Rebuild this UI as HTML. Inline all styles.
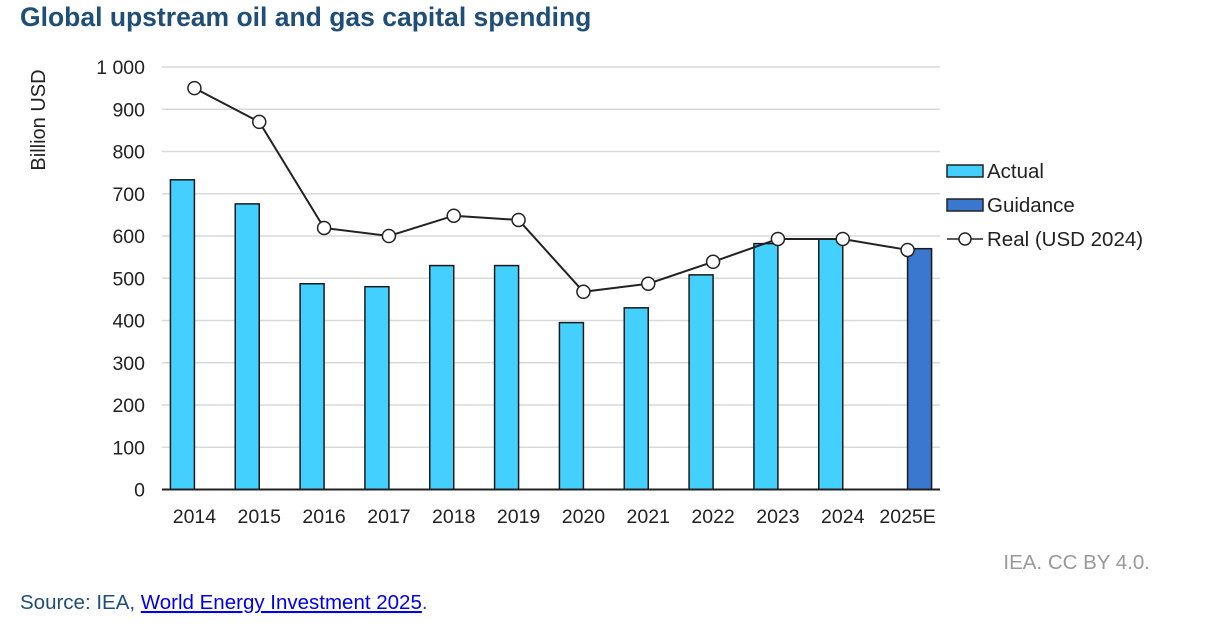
<!DOCTYPE html>
<html><head><meta charset="utf-8"><style>
body{margin:0;background:#fff;width:1206px;height:622px;overflow:hidden;font-family:"Liberation Sans",Arial,sans-serif}
</style></head><body>
<svg width="1206" height="622" viewBox="0 0 1206 622" xmlns="http://www.w3.org/2000/svg" font-family="Liberation Sans, Arial, sans-serif">
<text x="20" y="26" font-size="26.5" font-weight="bold" fill="#1f4e79">Global upstream oil and gas capital spending</text>
<text transform="translate(45,120) rotate(-90)" text-anchor="middle" font-size="20" fill="#222">Billion USD</text>
<g id="grid"></g><g id="bars"></g><g id="line"></g><g id="xlabels"></g>
<g>
<rect x="947" y="165" width="36" height="12" fill="#44d0ff" stroke="#222" stroke-width="1.5"/>
<text x="987" y="178" font-size="20.5" fill="#222">Actual</text>
<rect x="947" y="199" width="36" height="12" fill="#3a78d0" stroke="#222" stroke-width="1.5"/>
<text x="987" y="212" font-size="20.5" fill="#222">Guidance</text>
<line x1="947" y1="239" x2="983" y2="239" stroke="#222" stroke-width="1.5"/>
<circle cx="965" cy="239" r="6" fill="#fff" stroke="#222" stroke-width="1.5"/>
<text x="987" y="246" font-size="20.5" fill="#222">Real (USD 2024)</text>
</g>
<text x="1150" y="569" text-anchor="end" font-size="20.5" fill="#999">IEA. CC BY 4.0.</text>
<text x="20" y="609" font-size="20.5" fill="#1f4e79">Source: IEA, <tspan fill="#0000ee" text-decoration="underline">World Energy Investment 2025</tspan>.</text>
</svg>
<script>
const categories=["2014","2015","2016","2017","2018","2019","2020","2021","2022","2023","2024","2025E"];
const actual=[733,676,487,480,530,530,395,430,508,582,593,null];
const guidance=[null,null,null,null,null,null,null,null,null,null,null,570];
const real=[950,870,619,600,648,638,468,487,539,593,593,567];
const yTicks=[0,100,200,300,400,500,600,700,800,900,1000];
const tickLabels=["0","100","200","300","400","500","600","700","800","900","1 000"];
const NS="http://www.w3.org/2000/svg";
const L=162,R=940,B=489.5,T=67;
const step=(R-L)/categories.length;
const x=i=>L+step*(i+0.5);
const y=v=>B-(v/1000)*(B-T);
function mk(tag,attrs,parent){const e=document.createElementNS(NS,tag);for(const k in attrs)e.setAttribute(k,attrs[k]);document.getElementById(parent).appendChild(e);return e;}
yTicks.forEach((t,i)=>{
 if(t>0){const g=mk('line',{x1:L,x2:R,y1:y(t),y2:y(t),stroke:'#d9d9d9','stroke-width':1.5},'grid');
 
 }
 const tx=mk('text',{x:145,y:y(t)+7,'text-anchor':'end','font-size':19.5,fill:'#222'},'grid');
 tx.textContent=tickLabels[i];
 
 
});
const bw=24;
categories.forEach((c,i)=>{
 if(actual[i]!=null){const r=mk('rect',{x:x(i)-bw,y:y(actual[i]),width:bw,height:B-y(actual[i]),fill:'#44d0ff',stroke:'#1a1a1a','stroke-width':1.5},'bars');
 
 }
 if(guidance[i]!=null){const r=mk('rect',{x:x(i),y:y(guidance[i]),width:bw,height:B-y(guidance[i]),fill:'#3a78d0',stroke:'#1a1a1a','stroke-width':1.5},'bars');
 
 }
 const t=mk('text',{x:x(i),y:523,'text-anchor':'middle','font-size':19.5,fill:'#222'},'xlabels');
 t.textContent=c;
 
 
});
const ax=mk('line',{x1:L,x2:R,y1:B,y2:B,stroke:'#222','stroke-width':2},'bars');


const pl=mk('polyline',{points:real.map((v,i)=>x(i)+','+y(v)).join(' '),fill:'none',stroke:'#222','stroke-width':2},'line');


real.forEach((v,i)=>{const p=mk('circle',{cx:x(i),cy:y(v),r:6.5,fill:'#fff',stroke:'#222','stroke-width':1.5},'line');
 
 });
</script>
</body></html>
